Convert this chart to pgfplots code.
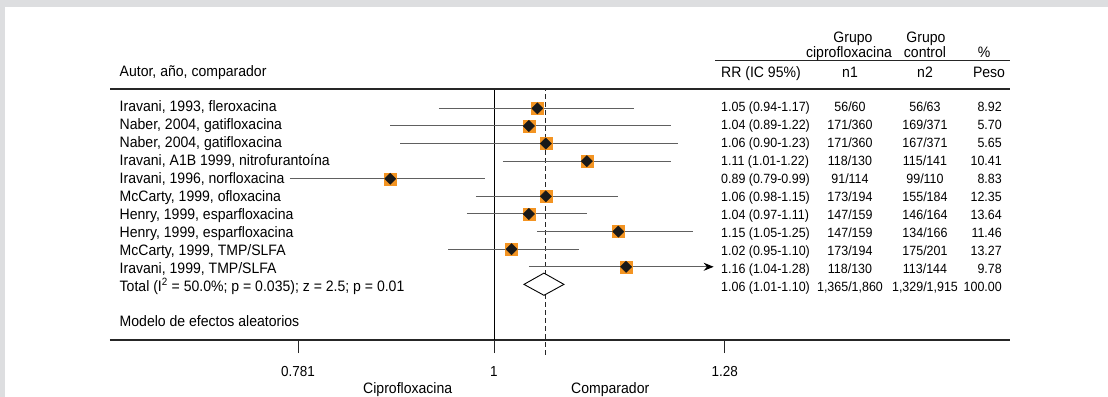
\documentclass[border=0pt]{standalone}
\usepackage{pgfplots}
\pgfplotsset{compat=1.18}
\usepackage{pgfplotstable}
\usetikzlibrary{arrows.meta}
\usepackage{fontspec}
\setmainfont[FakeStretch=0.93]{Liberation Sans}
\definecolor{bgframe}{HTML}{DDDEE0}
\definecolor{sq}{HTML}{F39422}
\definecolor{ciline}{HTML}{606060}
\newcommand\lf{\fontsize{15.1bp}{17bp}\selectfont}
\newcommand\tf{\fontsize{13.4bp}{16bp}\selectfont}
\newcommand\af{\fontsize{14.5bp}{17bp}\selectfont}

% y = 11 - row ; rr = point estimate ; lo, hi = 95% CI
\pgfplotstableread{
y  rr   lo    hi
10 1.05 0.94  1.17
9  1.04 0.89  1.22
8  1.06 0.90  1.23
7  1.11 1.01  1.22
6  0.89 0.795 0.99
5  1.06 0.98  1.15
4  1.04 0.97  1.11
3  1.15 1.05  1.25
2  1.02 0.95  1.10
1  1.16 1.04  1.28
}\studies

\newcommand\row[6]{%
 \pgfmathsetmacro\bl{111+18*(#1-1)}%
 \node[anchor=base west,inner sep=0,font=\lf] at (119.5bp,-\bl bp) {#2};
 \node[anchor=base west,inner sep=0,font=\tf] at (721bp,-\bl bp) {#3};
 \node[anchor=base,inner sep=0,font=\tf] at (850bp,-\bl bp) {#4};
 \node[anchor=base,inner sep=0,font=\tf] at (925bp,-\bl bp) {#5};
 \node[anchor=base east,inner sep=0,font=\tf] at (1002bp,-\bl bp) {#6};}

\begin{document}
\begin{tikzpicture}
\fill[bgframe] (0,0) rectangle (1108bp,-397bp);
\fill[white] (4.5bp,-7bp) rectangle (1108bp,-397bp);
\begin{axis}[
  at={(110bp,-340bp)}, anchor=south west,
  width=900bp, height=251bp, scale only axis,
  xmode=log, xmin=0.6496, xmax=1.7857, ymin=-3.16, ymax=11.10,
  axis x line*=bottom, axis y line=none,
  axis line style={-, line width=1.1bp, color=black!85},
  xtick={0.8024,1,1.296},
  xticklabels={\textnormal{0.781},\textnormal{1},\textnormal{1.28}},
  minor xtick={},
  tick align=outside, major tick length=13bp,
  xtick style={draw=black!85, line width=0.8bp},
  xticklabel style={font=\af, yshift=-10bp},
  clip=false,
]
% reference lines
\addplot[black, line width=0.9bp] coordinates {(1,-3.16) (1,11.10)};
\addplot[black!85, line width=0.9bp, dash pattern=on 5bp off 3bp] coordinates {(1.06,-4.0) (1.06,11.10)};
% scale tick marks
\draw[black!85, line width=0.8bp] (axis cs:0.8024,-3.16) -- (axis cs:0.8024,-3.90);
\draw[black!85, line width=0.8bp] (axis cs:1,-3.16) -- (axis cs:1,-3.90);
\draw[black!85, line width=0.8bp] (axis cs:1.296,-3.16) -- (axis cs:1.296,-3.90);
% confidence intervals
\addplot[ciline, line width=1bp] coordinates {(0.94,10) (1.17,10)};
\addplot[ciline, line width=1bp] coordinates {(0.89,9) (1.22,9)};
\addplot[ciline, line width=1bp] coordinates {(0.90,8) (1.23,8)};
\addplot[ciline, line width=1bp] coordinates {(1.01,7) (1.22,7)};
\addplot[ciline, line width=1bp] coordinates {(0.795,6) (0.99,6)};
\addplot[ciline, line width=1bp] coordinates {(0.98,5) (1.15,5)};
\addplot[ciline, line width=1bp] coordinates {(0.97,4) (1.11,4)};
\addplot[ciline, line width=1bp] coordinates {(1.05,3) (1.25,3)};
\addplot[ciline, line width=1bp] coordinates {(0.95,2) (1.10,2)};
\addplot[ciline, line width=1bp, -{Stealth[length=10bp,width=8bp,black]}] coordinates {(1.04,1) (1.28,1)};
% weights and point estimates
\addplot[only marks, mark=square*, mark size=6bp, mark options={fill=sq, draw=sq}] table[x=rr,y=y]{\studies};
\addplot[only marks, mark=square*, mark size=4bp, mark options={rotate=45, fill=black!90, draw=black!90}] table[x=rr,y=y]{\studies};
% pooled estimate
\addplot[black, line width=0.9bp, fill=white] coordinates {(1.0343,0) (1.0578,0.64) (1.0818,0) (1.0578,-0.62) (1.0343,0)} -- cycle;
\end{axis}

% table header
\draw[black!85, line width=1.1bp] (110bp,-89bp) -- (1010bp,-89bp);
\draw[black!85, line width=1bp] (715bp,-60bp) -- (1010bp,-60bp);
\node[anchor=base west,inner sep=0,font=\lf] at (119.5bp,-76.5bp) {Autor, año, comparador};
\node[anchor=base,inner sep=0,font=\lf] at (853bp,-42.5bp) {Grupo};
\node[anchor=base,inner sep=0,font=\lf] at (849bp,-57bp) {ciprofloxacina};
\node[anchor=base,inner sep=0,font=\lf] at (926bp,-42.5bp) {Grupo};
\node[anchor=base,inner sep=0,font=\lf] at (925bp,-57bp) {control};
\node[anchor=base,inner sep=0,font=\lf] at (984bp,-57bp) {\%};
\node[anchor=base west,inner sep=0,font=\lf] at (721bp,-77bp) {RR (IC 95\%)};
\node[anchor=base,inner sep=0,font=\lf] at (850bp,-77bp) {n1};
\node[anchor=base,inner sep=0,font=\lf] at (925bp,-77bp) {n2};
\node[anchor=base,inner sep=0,font=\lf] at (989bp,-77bp) {Peso};

\row{1}{Iravani, 1993, fleroxacina}{1.05 (0.94-1.17)}{56/60}{56/63}{8.92}
\row{2}{Naber, 2004, gatifloxacina}{1.04 (0.89-1.22)}{171/360}{169/371}{5.70}
\row{3}{Naber, 2004, gatifloxacina}{1.06 (0.90-1.23)}{171/360}{167/371}{5.65}
\row{4}{Iravani, A1B 1999, nitrofurantoína}{1.11 (1.01-1.22)}{118/130}{115/141}{10.41}
\row{5}{Iravani, 1996, norfloxacina}{0.89 (0.79-0.99)}{91/114}{99/110}{8.83}
\row{6}{McCarty, 1999, ofloxacina}{1.06 (0.98-1.15)}{173/194}{155/184}{12.35}
\row{7}{Henry, 1999, esparfloxacina}{1.04 (0.97-1.11)}{147/159}{146/164}{13.64}
\row{8}{Henry, 1999, esparfloxacina}{1.15 (1.05-1.25)}{147/159}{134/166}{11.46}
\row{9}{McCarty, 1999, TMP/SLFA}{1.02 (0.95-1.10)}{173/194}{175/201}{13.27}
\row{10}{Iravani, 1999, TMP/SLFA}{1.16 (1.04-1.28)}{118/130}{113/144}{9.78}
\row{11}{Total (I\textsuperscript{2} = 50.0\%; p = 0.035); z = 2.5; p = 0.01}{1.06 (1.01-1.10)}{1,365/1,860}{1,329/1,915}{100.00}
\node[anchor=base west,inner sep=0,font=\lf] at (119.5bp,-326bp) {Modelo de efectos aleatorios};

% direction labels
\node[anchor=base west,inner sep=0,font=\lf] at (363bp,-393.5bp) {Ciprofloxacina};
\node[anchor=base west,inner sep=0,font=\lf] at (571bp,-393.5bp) {Comparador};
\end{tikzpicture}
\end{document}
